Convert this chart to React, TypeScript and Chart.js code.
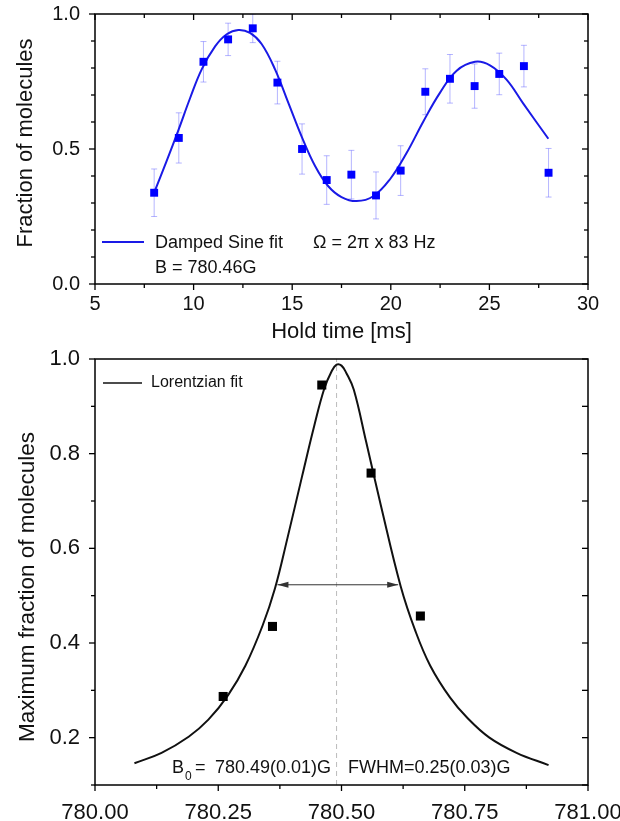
import React, { useEffect, useRef } from 'react';
import { Chart, registerables } from 'chart.js';

Chart.register(...registerables);

const FONT = '"Liberation Sans", Arial, Helvetica, sans-serif';

// ---------- Top panel data ----------
const holdTimes = [8, 9.25, 10.5, 11.75, 13, 14.25, 15.5, 16.75, 18, 19.25, 20.5, 21.75, 23, 24.25, 25.5, 26.75, 28];
const moleculeFractions = [0.338, 0.541, 0.823, 0.906, 0.947, 0.746, 0.5, 0.385, 0.405, 0.328, 0.42, 0.712, 0.76, 0.733, 0.778, 0.807, 0.412];
const fractionErrors = [0.088, 0.093, 0.075, 0.06, 0.053, 0.079, 0.093, 0.09, 0.09, 0.087, 0.092, 0.085, 0.09, 0.082, 0.077, 0.077, 0.09];

const sineFitTimes = [8.0, 8.63, 9.23, 9.82, 10.41, 11.09, 11.68, 12.27, 12.86, 13.45, 14.13, 14.8, 15.48, 16.16, 16.83, 17.5, 18.27, 19.11, 19.96, 20.8, 21.65, 22.49, 23.34, 24.27, 25.03, 25.87, 26.72, 27.99];
const sineFitValues = [0.338, 0.455, 0.57, 0.688, 0.795, 0.88, 0.925, 0.941, 0.93, 0.889, 0.795, 0.672, 0.546, 0.437, 0.362, 0.322, 0.307, 0.325, 0.388, 0.485, 0.602, 0.708, 0.79, 0.823, 0.81, 0.757, 0.668, 0.538];

const topXTicks = [5, 10, 15, 20, 25, 30];
const topXMinorTicks = [7.5, 12.5, 17.5, 22.5, 27.5];
const topYTicks = [0, 0.5, 1.0];
const topYMinorTicks = [0.1, 0.2, 0.3, 0.4, 0.6, 0.7, 0.8, 0.9];

const topXTitle = 'Hold time [ms]';
const topYTitle = 'Fraction of molecules';
const topLegendLabel = 'Damped Sine fit';
const topOmegaText = 'Ω = 2π x 83 Hz';
const topFieldText = 'B = 780.46G';

// ---------- Bottom panel data ----------
const fieldValues = [780.26, 780.36, 780.46, 780.56, 780.66];
const maxFractions = [0.287, 0.435, 0.945, 0.759, 0.457];

const lorentzFields = [780.08, 780.135, 780.19, 780.23, 780.27, 780.305, 780.34, 780.365, 780.39, 780.42, 780.445, 780.465, 780.48, 780.49, 780.5, 780.51, 780.525, 780.55, 780.58, 780.62, 780.65, 780.68, 780.72, 780.755, 780.8, 780.855, 780.92];
const lorentzValues = [0.146, 0.168, 0.202, 0.238, 0.29, 0.352, 0.437, 0.515, 0.62, 0.752, 0.86, 0.937, 0.974, 0.988, 0.986, 0.97, 0.935, 0.825, 0.69, 0.52, 0.425, 0.352, 0.285, 0.242, 0.2, 0.168, 0.142];

const resonanceCenter = [780.49];
const fwhmArrowFields = [780.37, 780.615];
const fwhmArrowLevel = [0.523];

const bottomXTicks = [780, 780.25, 780.5, 780.75, 781];
const bottomXMinorTicks = [780.125, 780.375, 780.625, 780.875];
const bottomYTicks = [0.2, 0.4, 0.6, 0.8, 1.0];
const bottomYMinorTicks = [0.1, 0.3, 0.5, 0.7, 0.9];

const bottomYTitle = 'Maximum fraction of molecules';
const bottomLegendLabel = 'Lorentzian fit';
const b0Value = '780.49(0.01)G';
const fwhmText = 'FWHM=0.25(0.03)G';

// ---------- helpers ----------
type TickSpec = { axis: 'x' | 'y'; side: 'top' | 'bottom' | 'left' | 'right'; values: number[]; len: number; out: boolean };

function framePlugin(specs: TickSpec[]) {
  return {
    id: 'frameTicks',
    afterDatasetsDraw(chart: any) {
      const { ctx, chartArea: a } = chart;
      ctx.save();
      ctx.strokeStyle = '#000';
      ctx.lineWidth = 1.5;
      ctx.strokeRect(a.left, a.top, a.right - a.left, a.bottom - a.top);
      ctx.lineWidth = 1.3;
      specs.forEach((s) => {
        const scale = chart.scales[s.axis];
        s.values.forEach((v) => {
          const p = scale.getPixelForValue(v);
          ctx.beginPath();
          if (s.side === 'bottom') {
            ctx.moveTo(p, a.bottom);
            ctx.lineTo(p, a.bottom + (s.out ? s.len : -s.len));
          } else if (s.side === 'top') {
            ctx.moveTo(p, a.top);
            ctx.lineTo(p, a.top + (s.out ? -s.len : s.len));
          } else if (s.side === 'left') {
            ctx.moveTo(a.left, p);
            ctx.lineTo(a.left + (s.out ? -s.len : s.len), p);
          } else {
            ctx.moveTo(a.right, p);
            ctx.lineTo(a.right + (s.out ? s.len : -s.len), p);
          }
          ctx.stroke();
        });
      });
      ctx.restore();
    },
  };
}

function drawRotatedTitle(ctx: any, text: string, x: number, y: number, size: number) {
  ctx.save();
  ctx.translate(x, y);
  ctx.rotate(-Math.PI / 2);
  ctx.font = `${size}px ${FONT}`;
  ctx.fillStyle = '#111';
  ctx.textAlign = 'center';
  ctx.textBaseline = 'middle';
  ctx.fillText(text, 0, 0);
  ctx.restore();
}

const errorBarPlugin = {
  id: 'errorBars',
  beforeDatasetsDraw(chart: any) {
    const { ctx, chartArea: a } = chart;
    const xs = chart.scales.x;
    const ys = chart.scales.y;
    ctx.save();
    ctx.beginPath();
    ctx.rect(a.left, a.top, a.right - a.left, a.bottom - a.top);
    ctx.clip();
    ctx.strokeStyle = 'rgba(90,90,255,0.45)';
    ctx.lineWidth = 1;
    holdTimes.forEach((t, i) => {
      const px = xs.getPixelForValue(t);
      const lo = ys.getPixelForValue(moleculeFractions[i] - fractionErrors[i]);
      const hi = ys.getPixelForValue(moleculeFractions[i] + fractionErrors[i]);
      ctx.beginPath();
      ctx.moveTo(px, lo);
      ctx.lineTo(px, hi);
      ctx.moveTo(px - 3, lo);
      ctx.lineTo(px + 3, lo);
      ctx.moveTo(px - 3, hi);
      ctx.lineTo(px + 3, hi);
      ctx.stroke();
    });
    ctx.restore();
  },
};

const topAnnotationPlugin = {
  id: 'topAnnotations',
  afterDraw(chart: any) {
    const { ctx } = chart;
    ctx.save();
    ctx.strokeStyle = '#1a1ae6';
    ctx.lineWidth = 2;
    ctx.beginPath();
    ctx.moveTo(102, 242);
    ctx.lineTo(144, 242);
    ctx.stroke();
    ctx.font = `18px ${FONT}`;
    ctx.fillStyle = '#111';
    ctx.textAlign = 'left';
    ctx.textBaseline = 'middle';
    ctx.fillText(topLegendLabel, 155, 243);
    ctx.fillText(topOmegaText, 313, 243);
    ctx.fillText(topFieldText, 155, 268);
    ctx.restore();
    drawRotatedTitle(ctx, topYTitle, 26, 143, 22);
  },
};

const bottomAnnotationPlugin = {
  id: 'bottomAnnotations',
  afterDraw(chart: any) {
    const { ctx } = chart;
    const xs = chart.scales.x;
    const ys = chart.scales.y;
    ctx.save();
    // legend
    ctx.strokeStyle = '#111';
    ctx.lineWidth = 1.6;
    ctx.beginPath();
    ctx.moveTo(103, 33);
    ctx.lineTo(142, 33);
    ctx.stroke();
    ctx.font = `16px ${FONT}`;
    ctx.fillStyle = '#111';
    ctx.textAlign = 'left';
    ctx.textBaseline = 'middle';
    ctx.fillText(bottomLegendLabel, 151, 33);
    // B0 / FWHM text
    ctx.font = `18px ${FONT}`;
    ctx.fillText('B', 172, 418);
    ctx.font = `12px ${FONT}`;
    ctx.fillText('0', 185, 427);
    ctx.font = `18px ${FONT}`;
    ctx.fillText('=', 195, 418);
    ctx.fillText(b0Value, 215, 418);
    ctx.fillText(fwhmText, 348, 418);
    // arrow heads
    const yA = ys.getPixelForValue(fwhmArrowLevel[0]);
    const xL = xs.getPixelForValue(fwhmArrowFields[0]);
    const xR = xs.getPixelForValue(fwhmArrowFields[1]);
    ctx.fillStyle = '#333';
    ctx.beginPath();
    ctx.moveTo(xL, yA);
    ctx.lineTo(xL + 11, yA - 3);
    ctx.lineTo(xL + 11, yA + 3);
    ctx.closePath();
    ctx.fill();
    ctx.beginPath();
    ctx.moveTo(xR, yA);
    ctx.lineTo(xR - 11, yA - 3);
    ctx.lineTo(xR - 11, yA + 3);
    ctx.closePath();
    ctx.fill();
    ctx.restore();
    drawRotatedTitle(ctx, bottomYTitle, 28, 237, 22.5);
  },
};

function TopChart() {
  const ref = useRef<HTMLCanvasElement | null>(null);
  useEffect(() => {
    if (!ref.current) return;
    const chart = new Chart(ref.current, {
      type: 'scatter',
      data: {
        datasets: [
          {
            label: 'Data',
            data: holdTimes.map((x, i) => ({ x, y: moleculeFractions[i] })),
            pointStyle: 'rect',
            pointRadius: 5.6,
            backgroundColor: '#0000ff',
            borderWidth: 0,
            showLine: false,
          } as any,
          {
            type: 'line',
            label: topLegendLabel,
            data: sineFitTimes.map((x, i) => ({ x, y: sineFitValues[i] })),
            borderColor: '#1a1ae6',
            borderWidth: 2,
            pointRadius: 0,
            tension: 0.4,
            fill: false,
          } as any,
        ],
      },
      options: {
        responsive: false,
        animation: false,
        layout: { padding: { left: 0, right: 32, top: 14, bottom: 0 } },
        plugins: { legend: { display: false }, tooltip: { enabled: false } },
        scales: {
          x: {
            type: 'linear',
            position: 'bottom',
            min: 5,
            max: 30,
            grid: { display: false, drawTicks: false },
            border: { display: false },
            afterBuildTicks: (s: any) => {
              s.ticks = topXTicks.map((v) => ({ value: v }));
            },
            afterFit: (s: any) => {
              s.height = 66;
              s.paddingLeft = 0;
              s.paddingRight = 0;
            },
            ticks: {
              font: { family: FONT, size: 20 },
              color: '#111',
              padding: 8,
              maxRotation: 0,
              autoSkip: false,
              callback: (v: any) => String(v),
            },
            title: {
              display: true,
              text: topXTitle,
              font: { family: FONT, size: 22 },
              color: '#111',
              padding: { top: 0, bottom: 5 },
            },
          },
          y: {
            type: 'linear',
            min: 0,
            max: 1,
            grid: { display: false, drawTicks: false },
            border: { display: false },
            afterBuildTicks: (s: any) => {
              s.ticks = topYTicks.map((v) => ({ value: v }));
            },
            afterFit: (s: any) => {
              s.width = 95;
              s.paddingTop = 0;
              s.paddingBottom = 0;
            },
            ticks: {
              font: { family: FONT, size: 20 },
              color: '#111',
              padding: 15,
              callback: (v: any) => Number(v).toFixed(1),
            },
          },
        },
      },
      plugins: [
        errorBarPlugin,
        framePlugin([
          { axis: 'x', side: 'bottom', values: topXTicks, len: 6, out: true },
          { axis: 'x', side: 'bottom', values: topXMinorTicks, len: 4, out: true },
          { axis: 'x', side: 'top', values: topXTicks, len: 6, out: false },
          { axis: 'x', side: 'top', values: topXMinorTicks, len: 4, out: false },
          { axis: 'y', side: 'left', values: topYTicks, len: 6, out: true },
          { axis: 'y', side: 'left', values: topYMinorTicks, len: 4, out: true },
          { axis: 'y', side: 'right', values: topYTicks, len: 6, out: false },
          { axis: 'y', side: 'right', values: topYMinorTicks, len: 4, out: false },
        ]),
        topAnnotationPlugin,
      ],
    } as any);
    return () => chart.destroy();
  }, []);
  return <canvas ref={ref} width={620} height={350} style={{ display: 'block', width: 620, height: 350 }} />;
}

function BottomChart() {
  const ref = useRef<HTMLCanvasElement | null>(null);
  useEffect(() => {
    if (!ref.current) return;
    const chart = new Chart(ref.current, {
      type: 'scatter',
      data: {
        datasets: [
          {
            label: 'Data',
            data: fieldValues.map((x, i) => ({ x, y: maxFractions[i] })),
            pointStyle: 'rect',
            pointRadius: 6.4,
            backgroundColor: '#000',
            borderWidth: 0,
            showLine: false,
          } as any,
          {
            type: 'line',
            label: bottomLegendLabel,
            data: lorentzFields.map((x, i) => ({ x, y: lorentzValues[i] })),
            borderColor: '#111',
            borderWidth: 2,
            pointRadius: 0,
            tension: 0.4,
            fill: false,
          } as any,
          {
            type: 'line',
            label: 'FWHM',
            data: fwhmArrowFields.map((x) => ({ x, y: fwhmArrowLevel[0] })),
            borderColor: '#333',
            borderWidth: 1,
            pointRadius: 0,
            fill: false,
          } as any,
          {
            type: 'line',
            label: 'B0',
            data: [
              { x: resonanceCenter[0], y: 0.1 },
              { x: resonanceCenter[0], y: 1.0 },
            ],
            borderColor: '#bbbbbb',
            borderWidth: 1,
            borderDash: [5, 4],
            pointRadius: 0,
            fill: false,
          } as any,
        ],
      },
      options: {
        responsive: false,
        animation: false,
        layout: { padding: { left: 0, right: 32, top: 9, bottom: 0 } },
        plugins: { legend: { display: false }, tooltip: { enabled: false } },
        scales: {
          x: {
            type: 'linear',
            position: 'bottom',
            min: 780,
            max: 781,
            grid: { display: false, drawTicks: false },
            border: { display: false },
            afterBuildTicks: (s: any) => {
              s.ticks = bottomXTicks.map((v) => ({ value: v }));
            },
            afterFit: (s: any) => {
              s.height = 36;
              s.paddingLeft = 0;
              s.paddingRight = 0;
            },
            ticks: {
              font: { family: FONT, size: 22 },
              color: '#111',
              padding: 15,
              maxRotation: 0,
              autoSkip: false,
              callback: (v: any) => Number(v).toFixed(2),
            },
          },
          y: {
            type: 'linear',
            min: 0.1,
            max: 1.0,
            grid: { display: false, drawTicks: false },
            border: { display: false },
            afterBuildTicks: (s: any) => {
              s.ticks = bottomYTicks.map((v) => ({ value: v }));
            },
            afterFit: (s: any) => {
              s.width = 95;
              s.paddingTop = 0;
              s.paddingBottom = 0;
            },
            ticks: {
              font: { family: FONT, size: 22 },
              color: '#111',
              padding: 15,
              callback: (v: any) => Number(v).toFixed(1),
            },
          },
        },
      },
      plugins: [
        framePlugin([
          { axis: 'x', side: 'bottom', values: bottomXTicks, len: 6, out: true },
          { axis: 'x', side: 'bottom', values: bottomXMinorTicks, len: 4, out: true },
          { axis: 'y', side: 'left', values: bottomYTicks, len: 6, out: true },
          { axis: 'y', side: 'left', values: bottomYMinorTicks, len: 4, out: true },
          { axis: 'y', side: 'right', values: bottomYTicks, len: 6, out: false },
          { axis: 'y', side: 'right', values: bottomYMinorTicks, len: 6, out: false },
        ]),
        bottomAnnotationPlugin,
      ],
    } as any);
    return () => chart.destroy();
  }, []);
  return <canvas ref={ref} width={620} height={471} style={{ display: 'block', width: 620, height: 471 }} />;
}

export default function App() {
  return (
    <div style={{ position: 'absolute', left: 0, top: 0, width: 620, height: 821, background: '#fff' }}>
      <TopChart />
      <BottomChart />
    </div>
  );
}
